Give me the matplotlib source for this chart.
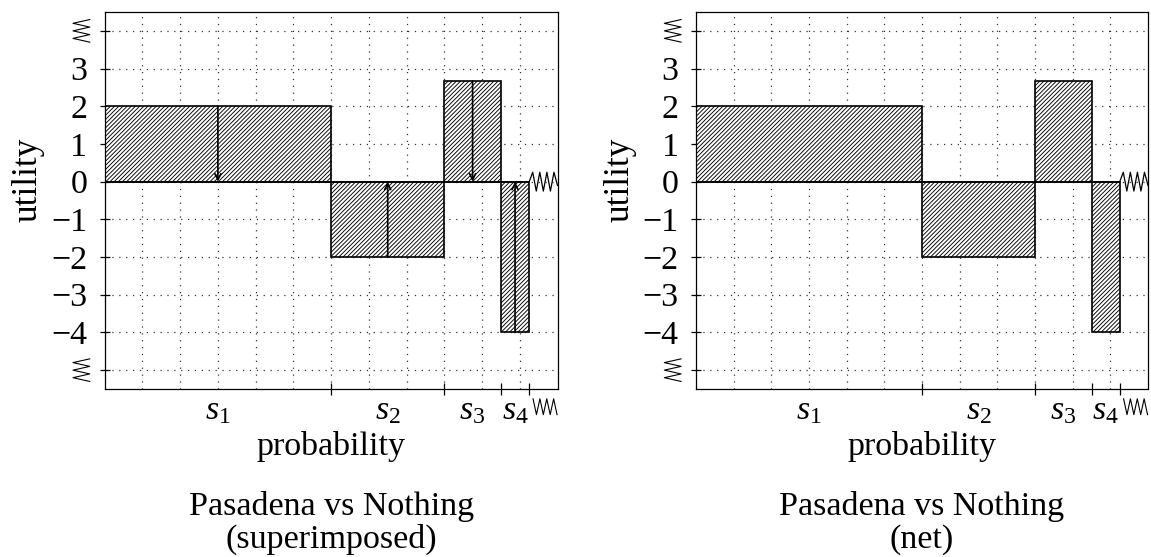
import matplotlib
matplotlib.use('Agg')
import matplotlib.pyplot as plt
import numpy as np
from matplotlib.transforms import blended_transform_factory

plt.rcParams['font.family'] = ['Liberation Serif', 'DejaVu Serif']
plt.rcParams['mathtext.fontset'] = 'custom'
plt.rcParams['mathtext.rm'] = 'Liberation Serif'
plt.rcParams['mathtext.it'] = 'Liberation Serif:italic'
plt.rcParams['hatch.linewidth'] = 0.65
plt.rcParams['axes.unicode_minus'] = True

# ---- data ----
states = ['$s_1$', '$s_2$', '$s_3$', '$s_4$']
probs = [1/2, 1/4, 1/8, 1/16]
utilities = [2, -2, 8/3, -4]
y_ticks = [-5, -4, -3, -2, -1, 0, 1, 2, 3, 4]
y_labels = ['', '\u22124', '\u22123', '\u22122', '\u22121', '0', '1', '2', '3', '']
titles = [('Pasadena vs Nothing', '(superimposed)'), ('Pasadena vs Nothing', '(net)')]
show_arrows = [True, False]

FS = 24.5
W, H = 1151, 557
fig = plt.figure(figsize=(W / 100, H / 100), dpi=100)

ax_rects = [
    [104.7 / W, 1 - 389 / H, (557.5 - 104.7) / W, (389 - 12) / H],
    [696 / W, 1 - 389 / H, (1148 - 696) / W, (389 - 12) / H],
]

lefts = np.concatenate([[0], np.cumsum(probs)[:-1]])
rights = np.cumsum(probs)
mids = lefts + np.array(probs) / 2

for k, rect in enumerate(ax_rects):
    ax = fig.add_axes(rect)
    ax.set_xlim(0, 1)
    ax.set_ylim(-5.5, 4.5)

    # dotted grid
    for gx in np.arange(1, 12) / 12:
        ax.axvline(gx, color='0.2', lw=0.9, ls=(0, (1, 4.5)), zorder=0)
    ax.set_yticks(y_ticks)
    ax.set_yticklabels(y_labels, fontsize=FS)
    ax.grid(axis='y', color='0.2', lw=0.9, ls=(0, (1, 4.5)), zorder=0)
    ax.set_axisbelow(True)

    ax.tick_params(axis='y', direction='inout', length=7, width=0.9, pad=9)
    ax.set_xticks(rights)
    ax.set_xticklabels([''] * len(rights))
    ax.tick_params(axis='x', which='major', direction='inout', length=9, width=0.9)
    ax.set_xticks(mids, minor=True)
    ax.set_xticklabels(states, minor=True, fontsize=FS)
    ax.tick_params(axis='x', which='minor', length=0, pad=5)

    for s in ax.spines.values():
        s.set_linewidth(0.9)

    # bars
    ax.bar(lefts, utilities, width=probs, align='edge', facecolor='white',
           edgecolor='black', hatch='////////', lw=1.2, zorder=2)
    ax.hlines(0, 0, rights[-1], color='black', lw=1.2, zorder=3)

    # zigzag continuation at y=0
    zx = np.linspace(rights[-1], 1.0, 9)
    zy = np.array([0, 0.25, -0.25, 0.25, -0.25, 0.25, -0.25, 0.25, -0.1])
    ax.plot(zx, zy, color='black', lw=0.9, clip_on=False, zorder=3)

    if show_arrows[k]:
        for m, u in zip(mids, utilities):
            ax.annotate('', xy=(m, 0), xytext=(m, u),
                        arrowprops=dict(arrowstyle='->', lw=1.2, color='black',
                                        shrinkA=0, shrinkB=0, mutation_scale=11),
                        zorder=4)

    # zigzag tick labels on y axis (at 4 and -5)
    tr_y = blended_transform_factory(ax.transAxes, ax.transData)
    for yc in (y_ticks[-1], y_ticks[0]):
        yy = np.linspace(yc - 0.3, yc + 0.3, 7)
        xx = np.array([-0.033, -0.07, -0.033, -0.07, -0.033, -0.07, -0.033])
        ax.plot(xx, yy, color='black', lw=0.8, transform=tr_y, clip_on=False)

    # zigzag tick label on x axis
    tr_x = blended_transform_factory(ax.transData, ax.transAxes)
    bx = np.linspace(0.946, 0.999, 8)
    by = np.array([-0.026, -0.068, -0.026, -0.068, -0.026, -0.068, -0.026, -0.068])
    ax.plot(bx, by, color='black', lw=0.8, transform=tr_x, clip_on=False)

    # labels
    ax.text(-0.169, 0.554, 'utility', rotation=90, ha='center', va='center',
            fontsize=FS + 1, transform=ax.transAxes)
    ax.text(0.5, -0.175, 'probability', ha='center', va='baseline',
            fontsize=FS, transform=ax.transAxes)
    ax.text(0.5, -0.334, titles[k][0], ha='center', va='baseline',
            fontsize=FS, transform=ax.transAxes)
    ax.text(0.5, -0.422, titles[k][1], ha='center', va='baseline',
            fontsize=FS, transform=ax.transAxes)

fig.savefig('out.png', dpi=100)
